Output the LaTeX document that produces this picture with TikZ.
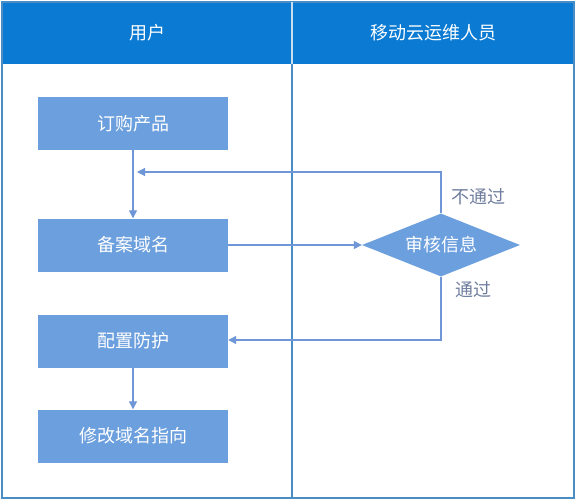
\documentclass[tikz,border=0pt]{standalone}
\usepackage{fontspec}
\setmainfont{Noto Sans CJK SC}
\usetikzlibrary{shapes.geometric,arrows.meta}
\definecolor{hdr}{HTML}{0A7AD2}
\definecolor{boxc}{HTML}{6C9FDD}
\definecolor{linec}{HTML}{6F96D6}
\definecolor{lanec}{HTML}{4A8CC6}
\definecolor{lblc}{HTML}{6F7E9E}
\tikzset{
  stepbox/.style={rectangle,fill=boxc,draw=none,minimum width=190pt,minimum height=53pt,text=white,font=\fontsize{18}{20}\selectfont,inner sep=0pt},
  decbox/.style={diamond,fill=boxc,draw=none,minimum width=158pt,minimum height=63pt,aspect=2.5,text=white,font=\fontsize{18}{20}\selectfont,inner sep=0pt},
  flow/.style={draw=linec,line width=1.2pt,-{Triangle[length=8pt,width=8pt]}},
  lbl/.style={text=lblc,font=\fontsize{18}{20}\selectfont,inner sep=0pt},
  hdrtxt/.style={text=white,font=\fontsize{18}{20}\selectfont,inner sep=0pt}
}
\begin{document}
\begin{tikzpicture}[x=1pt,y=-1pt]
\useasboundingbox (0,0) rectangle (576,500);
\fill[white] (0,0) rectangle (576,500);
% header
\fill[hdr] (2,2) rectangle (574,64);
% lanes
\draw[lanec,line width=1.2pt] (2,2) rectangle (574,498);
\draw[lanec,line width=1.8pt] (292,2) -- (292,498);
\draw[white!70!lanec,line width=1.5pt] (292,2) -- (292,64);
\node[hdrtxt] (h1) at (147,33) {用户};
\node[hdrtxt] (h2) at (433,33) {移动云运维人员};
% nodes
\node[stepbox] (a) at (133,123.5) {订购产品};
\node[stepbox] (b) at (133,245) {备案域名};
\node[stepbox] (c) at (133,341) {配置防护};
\node[stepbox] (d) at (133,436) {修改域名指向};
\node[decbox] (e) at (441,245) {审核信息};
\coordinate (m) at (133,172);
\coordinate (t1) at (441,172);
\coordinate (t2) at (441,340);
% connectors
\draw[draw=linec,line width=1.2pt] (a.south) -- (m);
\draw[flow] (m) -- (b.north);
\draw[flow] (e.north) -- (t1) -- ([xshift=4pt]m);
\draw[flow] (b.east) -- (e.west);
\draw[flow] (e.south) -- (t2) -- (c.east |- t2);
\draw[flow] (c.south) -- (d.north);
% labels
\node[lbl] (l1) at (478,197) {不通过};
\node[lbl] (l2) at (473,290) {通过};
\end{tikzpicture}
\end{document}
